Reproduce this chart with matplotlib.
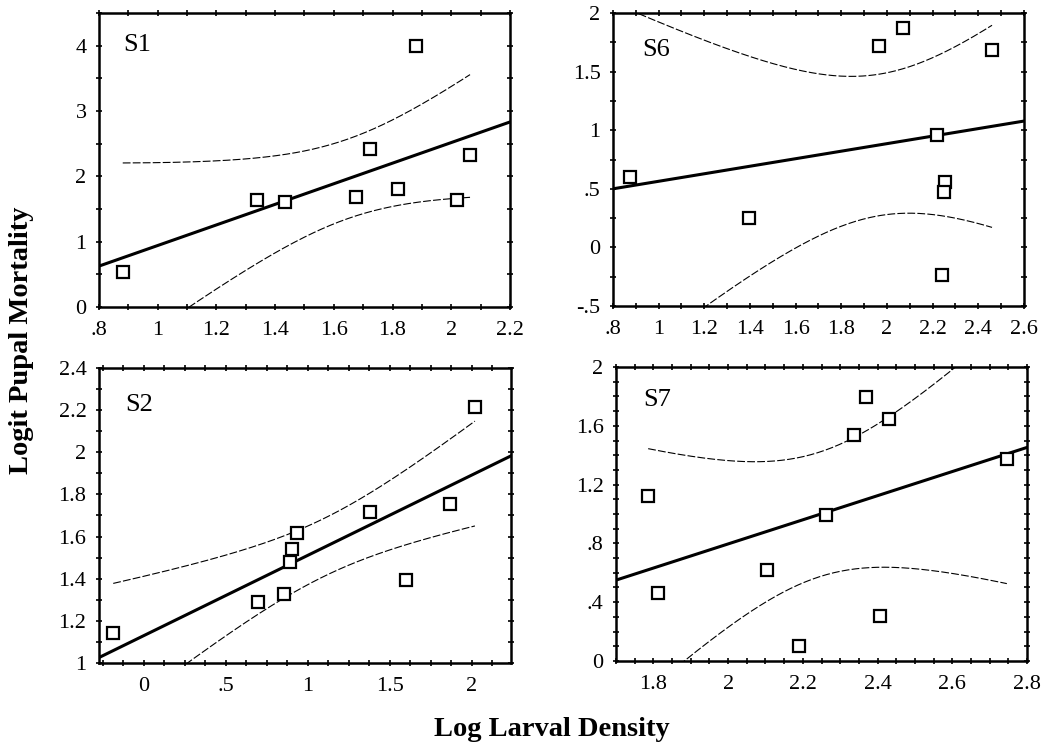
import numpy as np
import matplotlib
matplotlib.use('Agg')
import matplotlib.pyplot as plt
from matplotlib.ticker import MultipleLocator, FuncFormatter

plt.rcParams['font.family'] = 'Liberation Serif'

# log larval density (x) and logit pupal mortality (y) per site
s1_x = [0.881, 1.337, 1.435, 1.675, 1.723, 1.817, 1.880, 2.018, 2.064]
s1_y = [0.53, 1.64, 1.61, 1.69, 2.42, 1.80, 4.00, 1.64, 2.33]

s6_x = [0.873, 1.394, 1.965, 2.070, 2.218, 2.254, 2.250, 2.243, 2.460]
s6_y = [0.599, 0.252, 1.721, 1.869, 0.958, 0.562, 0.477, -0.238, 1.681]

s2_x = [-0.187, 0.695, 0.852, 0.890, 0.904, 0.931, 1.378, 1.596, 1.866, 2.018]
s2_y = [1.141, 1.288, 1.328, 1.480, 1.540, 1.616, 1.716, 1.394, 1.755, 2.213]

s7_x = [1.786, 1.812, 2.105, 2.189, 2.262, 2.336, 2.368, 2.407, 2.430, 2.746]
s7_y = [1.122, 0.465, 0.621, 0.104, 0.995, 1.540, 1.796, 0.304, 1.644, 1.376]

# two-sided 95% t quantiles by degrees of freedom
t95 = {7: 2.365, 8: 2.306}


def fmt(v, pos):
    s = '%g' % round(v, 3)
    if s.startswith('0.'):
        s = s[1:]
    elif s.startswith('-0.'):
        s = '-' + s[2:]
    return s


def panel(ax, x, y, name, xlim, ylim, xmaj, xmin, ymaj, ymin, lab_pos):
    x = np.asarray(x)
    y = np.asarray(y)
    n = len(x)
    xm = x.mean()
    sxx = ((x - xm) ** 2).sum()
    b = ((x - xm) * (y - y.mean())).sum() / sxx
    a = y.mean() - b * xm
    s = np.sqrt(((y - a - b * x) ** 2).sum() / (n - 2))

    # fitted line over the whole axis
    xl = np.linspace(xlim[0], xlim[1], 50)
    ax.plot(xl, a + b * xl, color='black', lw=2.2)

    # 95% confidence band for the mean over the data range
    xb = np.linspace(x.min(), x.max(), 200)
    hw = t95[n - 2] * s * np.sqrt(1.0 / n + (xb - xm) ** 2 / sxx)
    for sign in (1, -1):
        ax.plot(xb, a + b * xb + sign * hw, color='black', lw=0.8,
                linestyle=(0, (7, 2)))

    ax.plot(x, y, 's', mfc='white', mec='black', ms=9, mew=1.6, zorder=5)

    ax.set_xlim(xlim)
    ax.set_ylim(ylim)
    ax.xaxis.set_major_locator(MultipleLocator(xmaj))
    ax.xaxis.set_minor_locator(MultipleLocator(xmin))
    ax.yaxis.set_major_locator(MultipleLocator(ymaj))
    ax.yaxis.set_minor_locator(MultipleLocator(ymin))
    ax.xaxis.set_major_formatter(FuncFormatter(fmt))
    ax.yaxis.set_major_formatter(FuncFormatter(fmt))
    ax.tick_params(which='both', direction='inout', top=True, right=True,
                   length=4, width=1.2, labelsize=16)
    ax.tick_params(axis='x', pad=8)
    ax.tick_params(axis='y', pad=7)
    for sp in ax.spines.values():
        sp.set_linewidth(1.8)
    ax.text(lab_pos[0], lab_pos[1], name, transform=ax.transAxes,
            fontsize=19, ha='left', va='center')


fig = plt.figure(figsize=(10.45, 7.44), dpi=100)

ax1 = fig.add_axes([0.0947, 0.5874, 0.3933, 0.395])
panel(ax1, s1_x, s1_y, 'S1', (0.8, 2.2), (0, 4.5), 0.2, 0.1, 1, 0.5, (0.058, 0.89))

ax6 = fig.add_axes([0.5866, 0.5887, 0.3933, 0.3938])
panel(ax6, s6_x, s6_y, 'S6', (0.8, 2.6), (-0.5, 2), 0.2, 0.1, 0.5, 0.25, (0.07, 0.874))

ax2 = fig.add_axes([0.0947, 0.1089, 0.3943, 0.3965])
panel(ax2, s2_x, s2_y, 'S2', (-0.274, 2.238), (1, 2.4), 0.5, 0.125, 0.2, 0.1, (0.063, 0.875))

ax7 = fig.add_axes([0.5895, 0.1116, 0.3933, 0.3951])
panel(ax7, s7_x, s7_y, 'S7', (1.7, 2.8), (0, 2), 0.2, 0.05, 0.4, 0.1, (0.066, 0.888))

fig.text(0.528, 0.011, 'Log Larval Density', fontsize=20.5, fontweight='bold',
         ha='center', va='baseline')
fig.text(0.021, 0.543, 'Logit Pupal Mortality', fontsize=20.5, fontweight='bold',
         ha='center', va='center', rotation=90)

fig.savefig('out.png', dpi=100)
